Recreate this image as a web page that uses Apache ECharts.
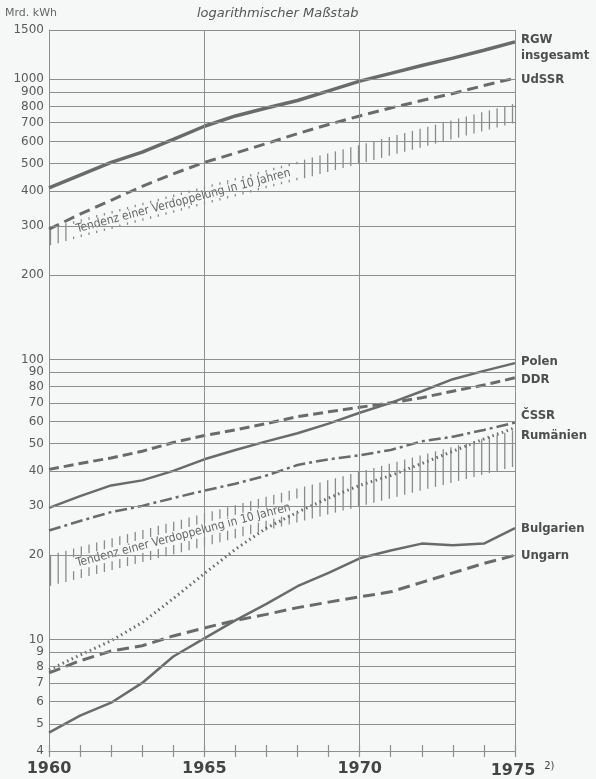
<!DOCTYPE html>
<html>
<head>
<meta charset="utf-8">
<script src="https://cdn.jsdelivr.net/npm/echarts@6/dist/echarts.min.js"></script>
<style>
html,body{margin:0;padding:0;background:#f6f8f7;}
#chart{width:596px;height:779px;}
</style>
</head>
<body>
<div id="chart"></div>
<script>
// ---- data ----
const years = [1960,1961,1962,1963,1964,1965,1966,1967,1968,1969,1970,1971,1972,1973,1974,1975];
const rgw       = [410, 455, 505, 550, 610, 680, 740, 790, 840, 910, 985, 1050, 1120, 1190, 1270, 1360];
const udssr     = [292, 330, 370, 415, 460, 505, 545, 590, 640, 690, 740, 790, 840, 890, 950, 1010];
const polen     = [29.5, 32.5, 35.5, 37, 40, 44, 47.5, 51, 54.5, 59, 64.5, 70, 77, 85, 91, 97];
const ddr       = [40.5, 42.5, 44.5, 47, 50.5, 53.5, 56, 59, 62.5, 65, 67.5, 70, 73, 77, 81, 86];
const cssr      = [24.5, 26.5, 28.5, 30, 32, 34, 36, 38.5, 42, 44, 45.5, 47.5, 51, 53, 56, 59.5];
const rumaenien = [7.8, 8.8, 9.9, 11.5, 14, 17.2, 21, 25, 28.5, 32, 35.5, 38.5, 42.5, 47, 52, 57];
const bulgarien = [4.65, 5.35, 5.95, 7.0, 8.7, 10.1, 11.7, 13.4, 15.5, 17.3, 19.5, 20.8, 22.0, 21.7, 22.0, 25];
const ungarn    = [7.6, 8.4, 9.1, 9.5, 10.3, 11.0, 11.7, 12.3, 13.0, 13.6, 14.2, 14.8, 16.0, 17.3, 18.7, 20];

// trend bands ("Tendenz einer Verdoppelung in 10 Jahren"), end points only
const bandYears = [1960, 1975];
const upperBandLow  = [255, 700];
const upperBandHigh = [295, 820];
const lowerBandLow  = [15.5, 41.5];
const lowerBandHigh = [20, 56];
const bandText = 'Tendenz einer Verdoppelung in 10 Jahren';

// axis ticks
const yTickLabels = [1500,1000,900,800,700,600,500,400,300,200,100,90,80,70,60,50,40,30,20,10,9,8,7,6,5,4];
const yGridValues = [1500,1000,900,800,700,600,500,400,300,200,100,90,80,70,60,50,40,30,20,10,9,8,7,6,5];
const xGridValues = [1965,1970,1975];
const xLabelYears = [1960,1965,1970,1975];

// ---- styles ----
const LINE = '#6a6a6a';
const GRID = '#8e8e8e';
const TXT = '#5a5a5a';
const COND = "'DejaVu Sans Condensed','Liberation Sans Narrow','DejaVu Sans',sans-serif";

function pairs(vals){ return years.map((y,i)=>[y, vals[i]]); }

function endLabel(text, offset){
  return {
    show: true, formatter: text, offset: offset, distance: 6,
    color: '#4e4e4e', fontFamily: COND, fontWeight: 'bold', fontSize: 13, lineHeight: 16, align: 'left'
  };
}

function lineSeries(name, vals, width, type, label, extra){
  return Object.assign({
    name: name, type: 'line', data: pairs(vals), symbol: 'none', z: 4,
    lineStyle: { color: LINE, width: width, type: type, cap: 'butt' },
    endLabel: label
  }, extra || {});
}

function bandRenderer(low, high, textFrom, textTo){
  return function(params, api){
    const a0 = api.coord([bandYears[0], low[0]]), a1 = api.coord([bandYears[1], low[1]]);
    const b0 = api.coord([bandYears[0], high[0]]), b1 = api.coord([bandYears[1], high[1]]);
    const ts = api.coord([textFrom, low[0]])[0], te = api.coord([textTo, low[0]])[0];
    const children = [];
    const step = 7.7;
    const st = { stroke: '#8a8a8a', lineWidth: 1.3 };
    for (let x = a0[0] + 1.5; x <= a1[0] + 0.5; x += step){
      const f = (x - a0[0]) / (a1[0] - a0[0]);
      const yl = a0[1] + f * (a1[1] - a0[1]);
      const yh = b0[1] + f * (b1[1] - b0[1]);
      if (x > ts && x < te){
        const t = Math.max(2.5, ((yl - yh) - 14) / 2);
        children.push({ type: 'line', shape: { x1: x, y1: yh, x2: x, y2: yh + t }, style: st });
        children.push({ type: 'line', shape: { x1: x, y1: yl - t, x2: x, y2: yl }, style: st });
      } else {
        children.push({ type: 'line', shape: { x1: x, y1: yh, x2: x, y2: yl }, style: st });
      }
    }
    const cx = (ts + te) / 2;
    const f = (cx - a0[0]) / (a1[0] - a0[0]);
    const cy = ((a0[1] + f * (a1[1] - a0[1])) + (b0[1] + f * (b1[1] - b0[1]))) / 2;
    const rot = Math.atan2(((a0[1]+b0[1]) - (a1[1]+b1[1])) / 2, a1[0] - a0[0]);
    children.push({
      type: 'text', x: cx, y: cy, rotation: rot,
      style: { text: bandText, font: "12px " + COND, fill: '#666', align: 'center', verticalAlign: 'middle' }
    });
    return { type: 'group', children: children };
  };
}

const chart = echarts.init(document.getElementById('chart'), null, { renderer: 'canvas' });

const option = {
  backgroundColor: '#f6f8f7',
  animation: false,
  grid: { left: 49, right: 81, top: 30, bottom: 27 },
  graphic: [
    { type: 'text', left: 5, top: 8, style: { text: 'Mrd. kWh', font: "11px 'DejaVu Sans',sans-serif", fill: '#666' } },
    { type: 'text', left: 197, top: 7, style: { text: 'logarithmischer Maßstab', font: "italic 13px 'DejaVu Sans',sans-serif", fill: '#555' } }
  ],
  xAxis: [{
    type: 'value', min: 1960, max: 1975, interval: 1,
    axisLine: { show: true, lineStyle: { color: GRID, width: 1 } },
    axisTick: { show: true, length: 6, lineStyle: { color: GRID, width: 1.2 } },
    splitLine: { show: false },
    axisLabel: {
      margin: 10,
      formatter: function(v){
        if (v === 1975) return '{p|}{a|1975}{s|2)}';
        return xLabelYears.indexOf(v) >= 0 ? '{a|' + v + '}' : '';
      },
      rich: {
        a: { fontFamily: "'DejaVu Sans',sans-serif", fontWeight: 'bold', fontSize: 16, color: '#444' },
        p: { width: 20 },
        s: { width: 20, fontFamily: "'DejaVu Sans',sans-serif", fontSize: 10, color: '#444', verticalAlign: 'top', padding: [0,0,10,4], align: 'left' }
      }
    }
  }, {
    type: 'value', min: 1960, max: 1975, interval: 1, position: 'bottom',
    axisLine: { show: false },
    axisTick: { show: true, inside: true, length: 6, lineStyle: { color: GRID, width: 1.2 } },
    axisLabel: { show: false }, splitLine: { show: false }
  }],
  yAxis: {
    type: 'log', logBase: 10, min: 4, max: 1500,
    axisLine: { show: true, lineStyle: { color: GRID, width: 1 } },
    axisTick: { show: false },
    splitLine: { show: false },
    axisLabel: {
      customValues: yTickLabels,
      margin: 5,
      color: TXT, fontSize: 12, fontFamily: "'DejaVu Sans',sans-serif",
      formatter: function(v){ return String(Math.round(v)); }
    }
  },
  series: [
    {
      name: 'grid', type: 'line', data: [[1960, 4]], symbol: 'none', z: 1,
      lineStyle: { opacity: 0 }, silent: true,
      markLine: {
        silent: true, symbol: ['none','none'], label: { show: false },
        lineStyle: { color: GRID, width: 1, type: 'solid' },
        data: yGridValues.map(v => ({ yAxis: v })).concat(xGridValues.map(v => ({ xAxis: v })))
      }
    },
    { type: 'custom', z: 2, silent: true, data: [[bandYears[0], upperBandLow[0]]], renderItem: bandRenderer(upperBandLow, upperBandHigh, 1960.65, 1968.0) },
    { type: 'custom', z: 2, silent: true, data: [[bandYears[0], lowerBandLow[0]]], renderItem: bandRenderer(lowerBandLow, lowerBandHigh, 1960.65, 1968.0) },
    lineSeries('RGW insgesamt', rgw, 3.5, 'solid', endLabel('RGW\ninsgesamt', [0, 6])),
    lineSeries('UdSSR', udssr, 3, [11, 6], endLabel('UdSSR', [0, 2])),
    lineSeries('Polen', polen, 2.5, 'solid', endLabel('Polen', [0, -2])),
    lineSeries('DDR', ddr, 3, [10, 5], endLabel('DDR', [0, 2])),
    lineSeries('ČSSR', cssr, 2.5, [12, 4, 3, 4], endLabel('ČSSR', [0, -7])),
    lineSeries('Rumänien', rumaenien, 3, [1.5, 3.5], endLabel('Rumänien', [0, 8])),
    lineSeries('Bulgarien', bulgarien, 2.5, 'solid', endLabel('Bulgarien', [0, 1])),
    lineSeries('Ungarn', ungarn, 3, [12, 6], endLabel('Ungarn', [0, 0]))
  ]
};
chart.setOption(option);
</script>
</body>
</html>
